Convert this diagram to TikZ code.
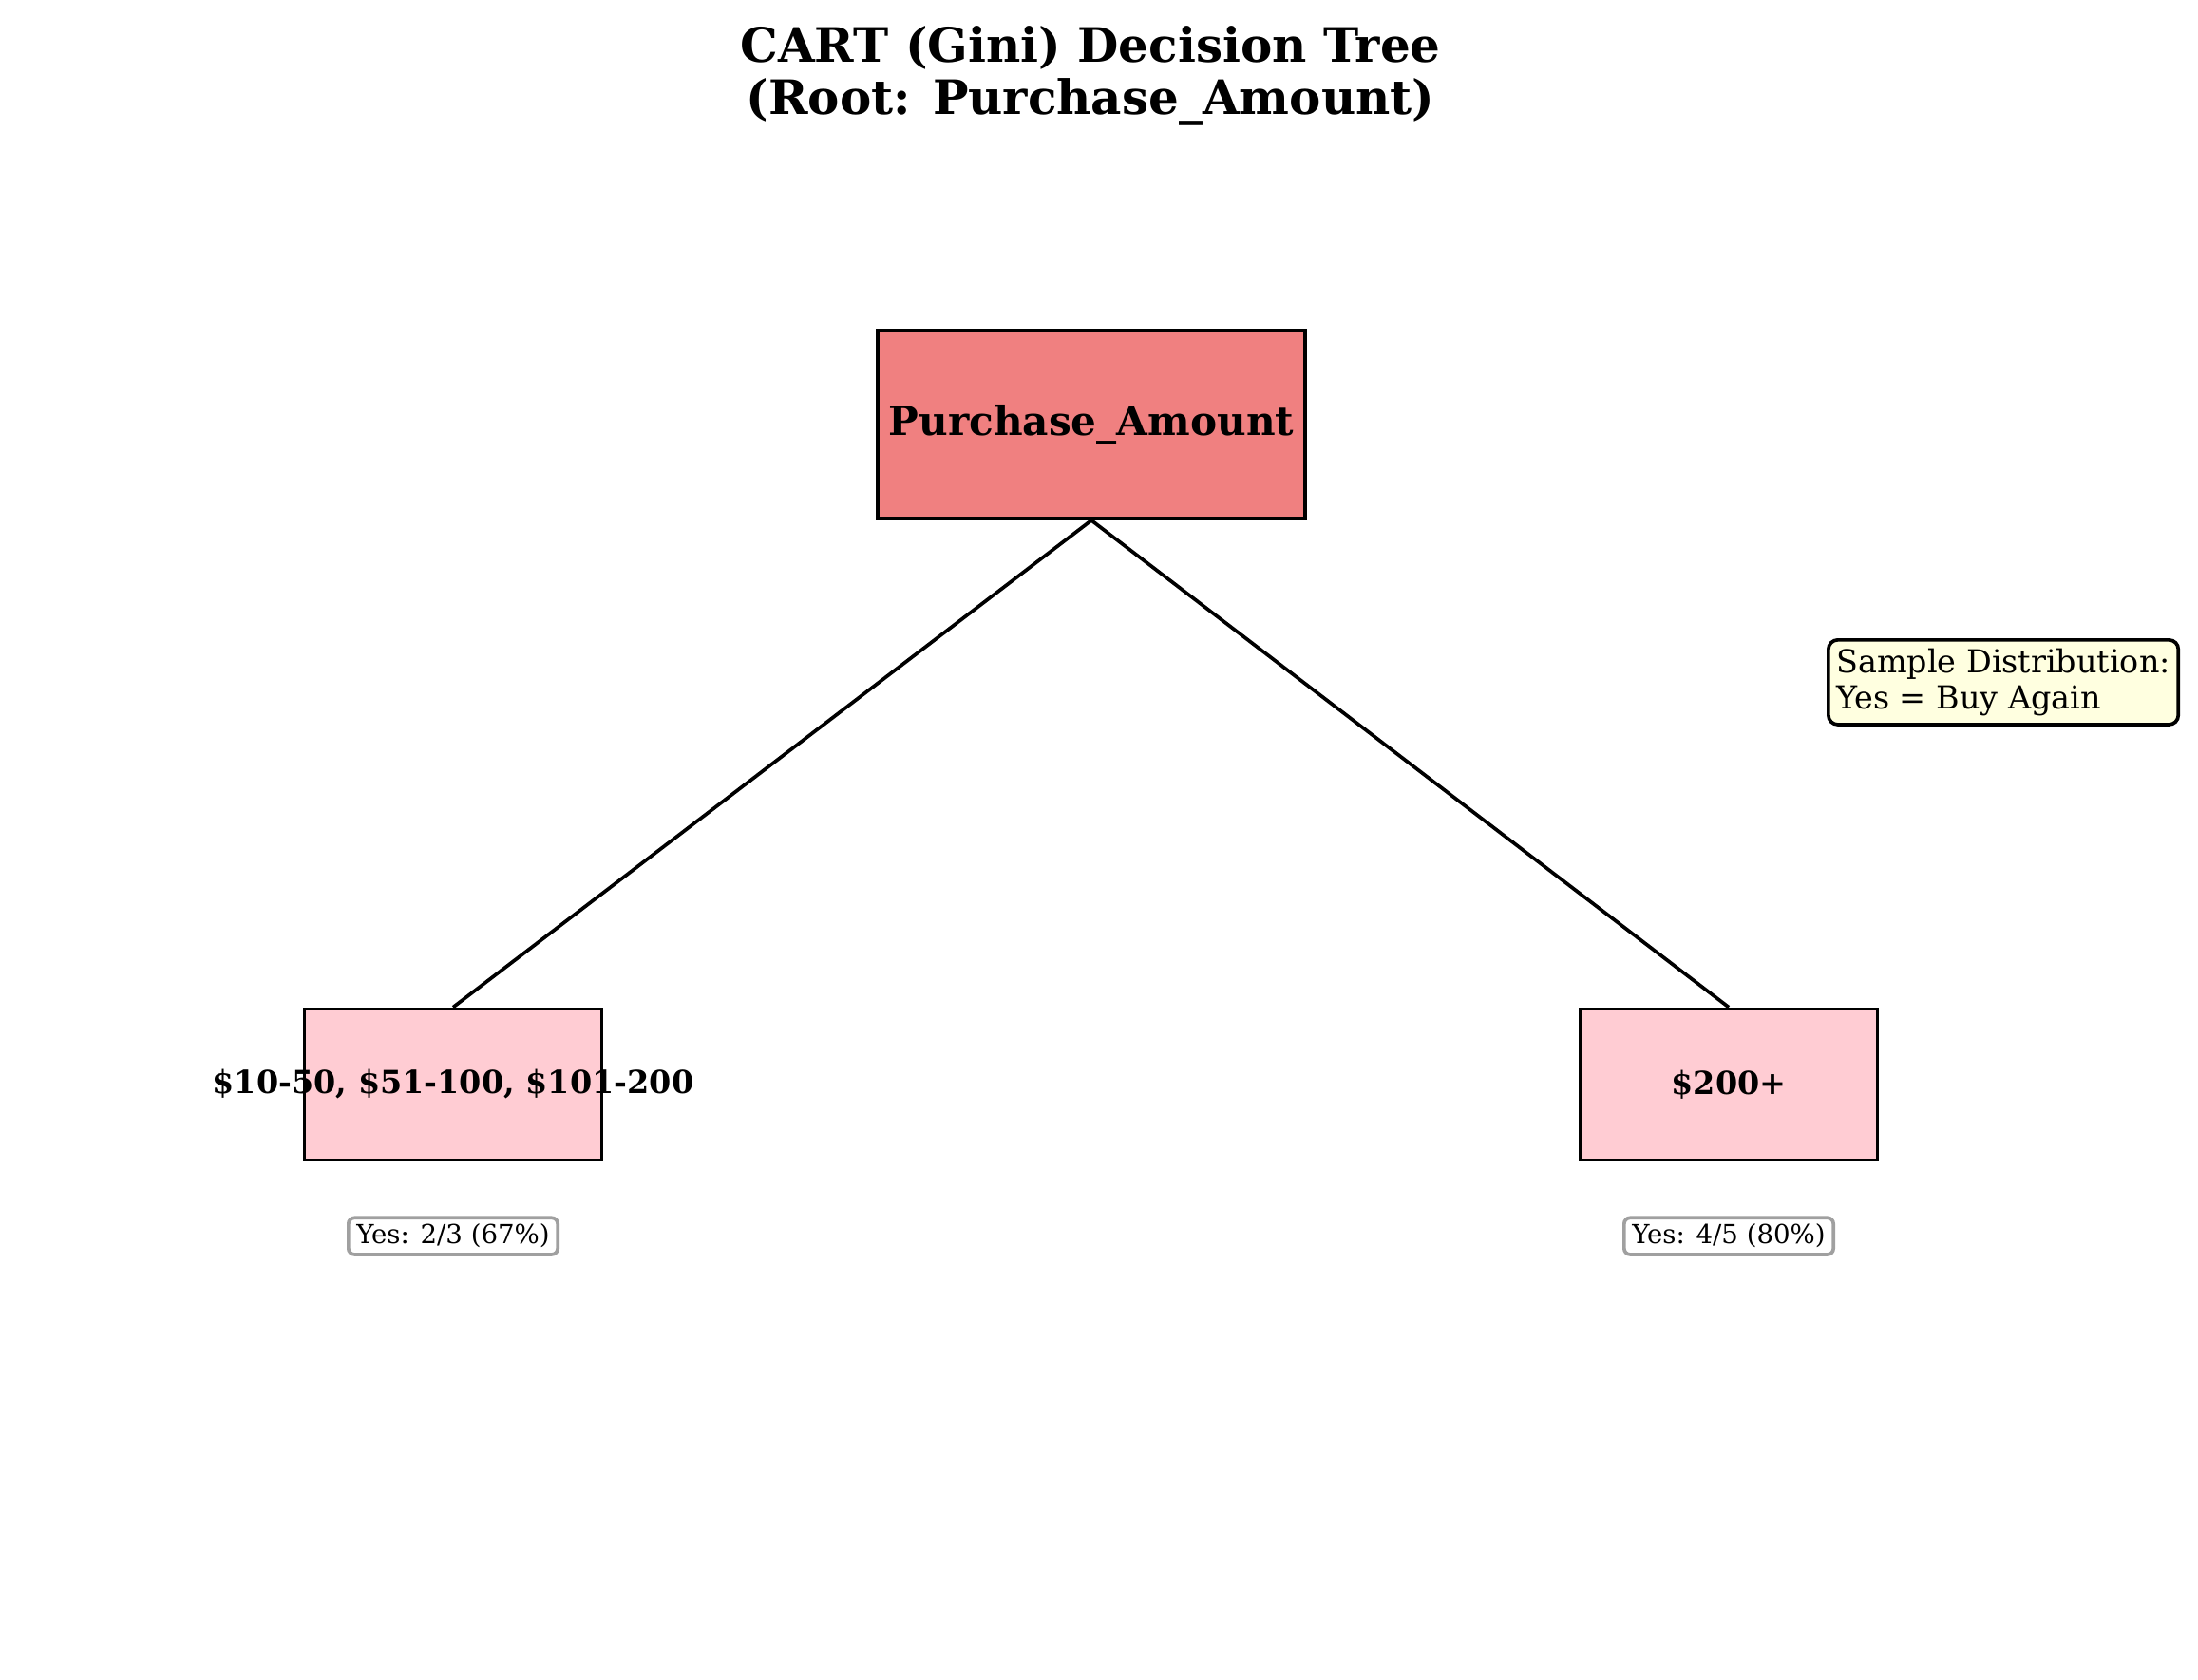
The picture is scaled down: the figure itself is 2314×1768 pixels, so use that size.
\documentclass[tikz,border=0pt]{standalone}
\usepackage{fontspec}
\setmainfont{DejaVu Serif}
\usetikzlibrary{positioning}
\definecolor{rootred}{RGB}{240,128,128}
\definecolor{leafpink}{RGB}{255,204,211}
\definecolor{notecream}{RGB}{255,255,224}
\definecolor{countgray}{RGB}{160,160,160}

\begin{document}
\begin{tikzpicture}[x=0.01cm, y=-0.01cm,
  rootbox/.style={draw, fill=rootred, line width=1.05pt, minimum width=4.48cm, minimum height=1.98cm,
    font=\fontsize{12}{14.4}\selectfont\bfseries},
  leafbox/.style={draw, fill=leafpink, line width=1.05pt, minimum width=3.13cm, minimum height=1.59cm},
  leaftext/.style={font=\fontsize{9.5}{11.4}\selectfont\bfseries},
  countbox/.style={draw=countgray, fill=white, line width=1.05pt, rounded corners=1.8pt, inner xsep=2.4pt,
    inner ysep=1.9pt, font=\fontsize{7.85}{9.4}\selectfont},
  notebox/.style={draw, fill=notecream, line width=1.05pt, rounded corners=2.8pt, align=left, inner xsep=2.4pt,
    inner ysep=2.5pt, font=\fontsize{9.5}{11}\selectfont},
  branch/.style={line width=1.05pt}]
  \path[use as bounding box] (0,0) rectangle (2314,1768);

  \node[align=center, font=\fontsize{14.2}{15.6}\selectfont\bfseries] (title) at (1148,80)
    {CART (Gini) Decision Tree\\(Root: Purchase\_Amount)};

  \node[rootbox] (root) at (1149,447) {Purchase\_Amount};
  \node[leafbox, label={[leaftext]center:\$10-50, \$51-100, \$101-200}] (lowamt) at (477,1142) {};
  \node[leafbox, label={[leaftext]center:\$200+}] (highamt) at (1820,1142) {};

  \draw[branch] (root.south) -- (lowamt.north);
  \draw[branch] (root.south) -- (highamt.north);

  \node[countbox, below=0.57cm of lowamt] (lowcount) {Yes: 2/3 (67\%)};
  \node[countbox, below=0.57cm of highamt] (highcount) {Yes: 4/5 (80\%)};

  \node[notebox, anchor=north west] (note) at (1923,672) {Sample Distribution:\\Yes = Buy Again};
\end{tikzpicture}
\end{document}
